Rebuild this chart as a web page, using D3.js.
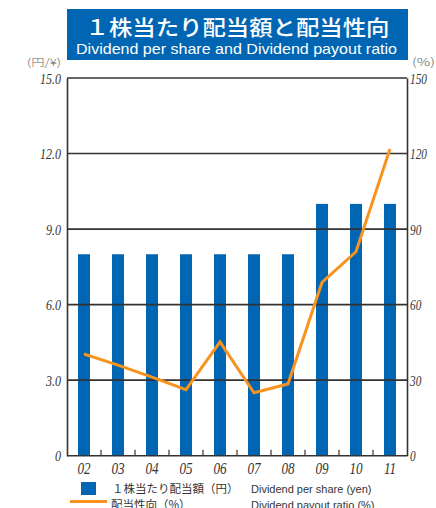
<!DOCTYPE html>
<html>
<head>
<meta charset="utf-8">
<script src="https://cdn.jsdelivr.net/npm/d3@7"></script>
<style>
  html, body { margin: 0; padding: 0; background: #fff; }
  svg { display: block; }
</style>
</head>
<body>
<svg id="chart" width="436" height="508"></svg>
<script>
// Fiscal years, dividend per share (yen) and payout ratio (%)
const years = ["02", "03", "04", "05", "06", "07", "08", "09", "10", "11"];
const dividendPerShare = [8, 8, 8, 8, 8, 8, 8, 10, 10, 10];
const payoutRatio = [40.4, 36.0, 31.2, 26.2, 45.2, 25.0, 28.5, 68.8, 81.0, 121.8];
const leftTicks = [0, 3, 6, 9, 12, 15];
const rightTicks = [0, 30, 60, 90, 120, 150];

const BLUE = "#0066b3";
const ORANGE = "#f7931e";
const INK = "#333";
const CJK = "'Noto Sans CJK JP', sans-serif";
const NUM = "'Liberation Serif', 'DejaVu Serif', serif";

const svg = d3.select("#chart");
const plot = { left: 67, right: 407, top: 78, bottom: 455.7 };

const x = d3.scaleBand().domain(years).range([plot.left, plot.right]).paddingInner(0).paddingOuter(0);
const yL = d3.scaleLinear().domain([0, 15]).range([plot.bottom, plot.top]);
const yR = d3.scaleLinear().domain([0, 150]).range([plot.bottom, plot.top]);

// Squeeze numeric labels horizontally for a condensed italic look
function condense(sel, factor) {
  sel.each(function () {
    const w = this.getComputedTextLength();
    d3.select(this).attr("textLength", w * factor).attr("lengthAdjust", "spacingAndGlyphs");
  });
}

// Title block
svg.append("rect").attr("x", 67).attr("y", 9).attr("width", 341).attr("height", 51).attr("fill", BLUE);
svg.append("text").attr("x", 237.5).attr("y", 35).attr("text-anchor", "middle")
  .attr("font-family", CJK).attr("font-size", 21).attr("font-weight", 500).attr("fill", "#fff")
  .attr("textLength", 304).attr("lengthAdjust", "spacingAndGlyphs")
  .text("１株当たり配当額と配当性向");
svg.append("text").attr("x", 236.5).attr("y", 54).attr("text-anchor", "middle")
  .attr("font-family", "'Liberation Sans Narrow', 'Liberation Sans', sans-serif").attr("font-size", 15).attr("fill", "#fff")
  .attr("textLength", 321).attr("lengthAdjust", "spacingAndGlyphs")
  .text("Dividend per share and Dividend payout ratio");

// Unit labels
svg.append("text").attr("x", 61).attr("y", 66).attr("text-anchor", "end")
  .attr("font-family", CJK).attr("font-size", 10.5).attr("font-weight", 300).attr("fill", "#666")
  .attr("textLength", 34).attr("lengthAdjust", "spacingAndGlyphs").text("(円/¥)");
svg.append("text").attr("x", 412).attr("y", 66).attr("text-anchor", "start")
  .attr("font-family", CJK).attr("font-size", 11).attr("font-weight", 300).attr("fill", "#666")
  .attr("textLength", 23).attr("lengthAdjust", "spacingAndGlyphs").text("(%)");

// Bars
svg.append("g").selectAll("rect").data(years).join("rect")
  .attr("x", d => x(d) + x.bandwidth() / 2 - 6)
  .attr("width", 12)
  .attr("y", (d, i) => yL(dividendPerShare[i]))
  .attr("height", (d, i) => yL(0) - yL(dividendPerShare[i]))
  .attr("fill", BLUE);

// Horizontal gridlines
svg.append("g").selectAll("line").data(leftTicks.filter(t => t > 0)).join("line")
  .attr("x1", plot.left).attr("x2", plot.right)
  .attr("y1", d => yL(d)).attr("y2", d => yL(d))
  .attr("stroke", INK).attr("stroke-width", 1.6);

// Left axis
const leftAxis = svg.append("g").attr("transform", `translate(${plot.left},0)`)
  .call(d3.axisLeft(yL).tickValues(leftTicks).tickSize(0).tickPadding(6)
    .tickFormat(d => d === 0 ? "0" : d3.format(".1f")(d)));
leftAxis.select(".domain").attr("stroke", INK).attr("stroke-width", 1.6);
leftAxis.selectAll("text").attr("font-family", NUM).attr("font-style", "italic")
  .attr("font-size", 15).attr("fill", "#333").attr("dy", "0.35em").call(condense, 0.8);

// Right axis
const rightAxis = svg.append("g").attr("transform", `translate(${plot.right},0)`)
  .call(d3.axisRight(yR).tickValues(rightTicks).tickSize(0).tickPadding(3));
rightAxis.select(".domain").attr("stroke", INK).attr("stroke-width", 1.6);
rightAxis.selectAll("text").attr("font-family", NUM).attr("font-style", "italic")
  .attr("font-size", 15).attr("fill", "#333").attr("dy", "0.35em").call(condense, 0.75);

// Bottom axis with inner ticks on category boundaries
const bottom = svg.append("g").attr("transform", `translate(0,${plot.bottom})`);
bottom.append("line").attr("x1", plot.left).attr("x2", plot.right).attr("stroke", INK).attr("stroke-width", 1.6);
bottom.selectAll(".tk").data(years.slice(1)).join("line").attr("class", "tk")
  .attr("x1", d => x(d)).attr("x2", d => x(d)).attr("y1", 0).attr("y2", -6)
  .attr("stroke", INK).attr("stroke-width", 1.2);
bottom.selectAll(".lbl").data(years).join("text").attr("class", "lbl")
  .attr("x", d => x(d) + x.bandwidth() / 2).attr("y", 18)
  .attr("text-anchor", "middle").attr("font-family", NUM).attr("font-style", "italic")
  .attr("font-size", 16).attr("fill", "#333").text(d => d).call(condense, 0.82);

// Payout ratio line
const line = d3.line().x((d, i) => x(years[i]) + x.bandwidth() / 2).y(d => yR(d));
svg.append("path").datum(payoutRatio).attr("d", line)
  .attr("fill", "none").attr("stroke", ORANGE).attr("stroke-width", 3).attr("stroke-linejoin", "miter");

// Legend
const leg = svg.append("g");
leg.append("rect").attr("x", 81).attr("y", 482).attr("width", 15).attr("height", 13).attr("fill", BLUE);
leg.append("text").attr("x", 112).attr("y", 493).attr("font-family", CJK).attr("font-size", 11.5).attr("fill", "#333")
  .text("１株当たり配当額（円）");
leg.append("text").attr("x", 251).attr("y", 493).attr("font-family", "'Liberation Sans', sans-serif").attr("font-size", 11).attr("fill", "#333")
  .text("Dividend per share (yen)");
leg.append("line").attr("x1", 70).attr("x2", 107).attr("y1", 501.5).attr("y2", 501.5).attr("stroke", ORANGE).attr("stroke-width", 3);
leg.append("text").attr("x", 111).attr("y", 508.5).attr("font-family", CJK).attr("font-size", 11.5).attr("fill", "#333")
  .text("配当性向（%）");
leg.append("text").attr("x", 251).attr("y", 508.5).attr("font-family", "'Liberation Sans', sans-serif").attr("font-size", 11).attr("fill", "#333")
  .text("Dividend payout ratio (%)");
</script>
</body>
</html>
